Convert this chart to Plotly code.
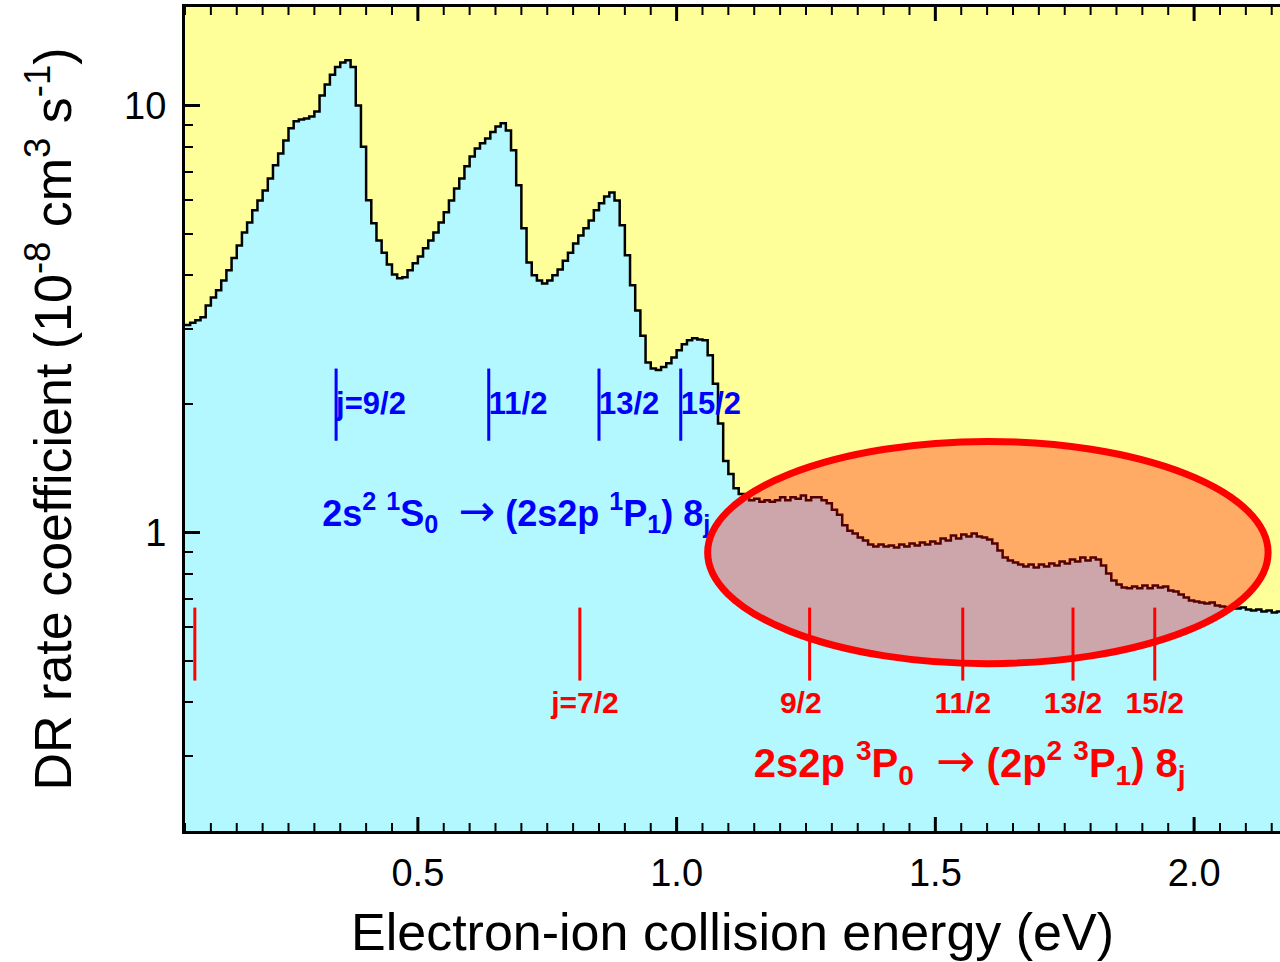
import math
import plotly.graph_objects as go

# Measured DR rate coefficient (10^-8 cm^3 s^-1), 0.01 eV bins starting at 0.05 eV
E_START = 0.05
BIN_WIDTH = 0.01
rate = [
    3.06, 3.10, 3.14, 3.19, 3.40, 3.55, 3.69, 3.89, 4.11, 4.39,
    4.70, 5.04, 5.32, 5.68, 5.99, 6.32, 6.74, 7.24, 7.72, 8.28,
    8.84, 9.18, 9.27, 9.32, 9.42, 9.68, 10.55, 11.2, 11.8, 12.3,
    12.6, 12.75, 12.3, 10.0, 8.0, 6.0, 5.3, 4.83, 4.52, 4.24,
    4.02, 3.94, 3.96, 4.11, 4.27, 4.43, 4.63, 4.83, 5.04, 5.32,
    5.62, 5.99, 6.39, 6.74, 7.20, 7.59, 7.93, 8.15, 8.37, 8.66,
    8.93, 9.08, 8.74, 7.85, 6.50, 5.16, 4.29, 4.00, 3.89, 3.83,
    3.89, 4.00, 4.13, 4.33, 4.52, 4.75, 4.96, 5.16, 5.38, 5.68,
    5.90, 6.12, 6.25, 5.99, 5.24, 4.46, 3.79, 3.31, 2.89, 2.50,
    2.42, 2.40, 2.44, 2.49, 2.57, 2.67, 2.76, 2.82, 2.85, 2.83,
    2.82, 2.60, 2.23, 1.80, 1.47, 1.37, 1.27, 1.23, 1.21, 1.19,
    1.20, 1.18, 1.19, 1.18, 1.19, 1.21, 1.19, 1.21, 1.20, 1.22,
    1.19, 1.21, 1.21, 1.19, 1.17, 1.13, 1.10, 1.04, 1.01, 0.995,
    0.973, 0.958, 0.937, 0.927, 0.937, 0.927, 0.932, 0.922, 0.937, 0.927,
    0.942, 0.932, 0.947, 0.937, 0.953, 0.942, 0.968, 0.958, 0.984, 0.968,
    0.989, 0.979, 0.995, 0.979, 0.973, 0.963, 0.942, 0.907, 0.874, 0.860,
    0.851, 0.841, 0.833, 0.841, 0.828, 0.841, 0.833, 0.846, 0.837, 0.855,
    0.846, 0.864, 0.855, 0.874, 0.860, 0.874, 0.864, 0.837, 0.802, 0.772,
    0.755, 0.743, 0.740, 0.747, 0.740, 0.751, 0.740, 0.751, 0.743, 0.747,
    0.731, 0.727, 0.716, 0.704, 0.693, 0.689, 0.686, 0.682, 0.686, 0.675,
    0.671, 0.667, 0.671, 0.664, 0.667, 0.660, 0.657, 0.660, 0.653, 0.657,
    0.650, 0.653, 0.650,
]
energy = [round(E_START + i * BIN_WIDTH, 2) for i in range(len(rate))]

# Rydberg resonance positions 2s^2 1S0 -> (2s2p 1P1) 8j
blue_E = [0.342, 0.637, 0.850, 1.008]
blue_labels = ["j=9/2", "11/2", "13/2", "15/2"]
blue_bar = (1.64, 2.42)
blue_label_y = 1.98

# Rydberg resonance positions 2s2p 3P0 -> (2p^2 3P1) 8j
red_E = [0.069, 0.813, 1.257, 1.553, 1.766, 1.924]
red_label_E = [0.823, 1.240, 1.553, 1.766, 1.924]
red_labels = ["j=7/2", "9/2", "11/2", "13/2", "15/2"]
red_bar = (0.45, 0.667)
red_label_y = 0.393

# Highlighted region (ellipse bounds)
ell_E = (1.060, 2.143)
ell_rate = (0.493, 1.634)

# Axis ticks
X_RANGE = [0.05, 2.166]
x_major = [0.5, 1.0, 1.5, 2.0]
x_major_text = ["0.5", "1.0", "1.5", "2.0"]
x_minor = [round(0.05 * k, 2) for k in range(1, 44) if k % 10 != 0]
y_major = [1, 10]
y_minor = [0.2, 0.3, 0.4, 0.5, 0.6, 0.7, 0.8, 0.9, 2, 3, 4, 5, 6, 7, 8, 9]

WIDTH, HEIGHT = 1280, 962
MARGIN = dict(l=185, r=0, t=7, b=131)
PLOT_H = HEIGHT - MARGIN["t"] - MARGIN["b"]

FONT = "Liberation Sans, Arial, sans-serif"
BLUE = "#0000FF"
RED = "#FF0000"


def arrow(size):
    return ('<span style="font-family:DejaVu Sans;font-weight:normal;'
            'font-size:%dpx">\u2192</span>' % size)


fig = go.Figure()

# spectrum: step histogram filled down to the axis
fig.add_trace(go.Scatter(
    x=energy, y=rate, mode="lines",
    line=dict(color="black", width=2.5, shape="hv"),
    fill="tozeroy", fillcolor="#B3F8FF",
    hoverinfo="skip",
))


def bars(xs, lo_hi):
    xx, yy = [], []
    for e in xs:
        xx += [e, e, None]
        yy += [lo_hi[0], lo_hi[1], None]
    return xx, yy


bx, by = bars(blue_E, blue_bar)
fig.add_trace(go.Scatter(x=bx, y=by, mode="lines",
                         line=dict(color=BLUE, width=3), hoverinfo="skip"))
rx, ry = bars(red_E, red_bar)
fig.add_trace(go.Scatter(x=rx, y=ry, mode="lines",
                         line=dict(color=RED, width=3), hoverinfo="skip"))

# series labels
fig.add_trace(go.Scatter(
    x=blue_E, y=[blue_label_y] * len(blue_E), mode="text",
    text=["<b>%s</b>" % t for t in blue_labels], textposition="middle right",
    textfont=dict(family=FONT, size=31, color=BLUE), cliponaxis=False,
    hoverinfo="skip",
))
fig.add_trace(go.Scatter(
    x=red_label_E, y=[red_label_y] * len(red_label_E), mode="text",
    text=["<b>%s</b>" % t for t in red_labels], textposition="middle center",
    textfont=dict(family=FONT, size=30, color=RED), cliponaxis=False,
    hoverinfo="skip",
))

# transition labels
fig.add_trace(go.Scatter(
    x=[0.315], y=[1.09], mode="text",
    text=["<b>2s<sup>2</sup> <sup>1</sup>S<sub>0</sub>  " + arrow(44) +
          " (2s2p <sup>1</sup>P<sub>1</sub>) 8<sub>j</sub></b>"],
    textposition="middle right",
    textfont=dict(family=FONT, size=36, color=BLUE), cliponaxis=False,
    hoverinfo="skip",
))
fig.add_trace(go.Scatter(
    x=[1.149], y=[0.283], mode="text",
    text=["<b>2s2p <sup>3</sup>P<sub>0</sub>  " + arrow(47) +
          " (2p<sup>2</sup> <sup>3</sup>P<sub>1</sub>) 8<sub>j</sub></b>"],
    textposition="middle right",
    textfont=dict(family=FONT, size=40, color=RED), cliponaxis=False,
    hoverinfo="skip",
))

fig.add_shape(
    type="circle", xref="x", yref="y",
    x0=ell_E[0], x1=ell_E[1], y0=ell_rate[0], y1=ell_rate[1],
    layer="above", fillcolor="rgba(255,0,0,0.33)",
    line=dict(color=RED, width=7),
)

# inward energy ticks on the bottom and top frame edges
for vals, length, width in ((x_major, 14, 3), (x_minor, 8, 2)):
    frac = length / PLOT_H
    for v in vals:
        for base, tip in ((0, frac), (1, 1 - frac)):
            fig.add_shape(type="line", xref="x", yref="paper",
                          x0=v, x1=v, y0=base, y1=tip, layer="above",
                          line=dict(color="black", width=width))

fig.update_layout(
    width=WIDTH, height=HEIGHT,
    margin=MARGIN,
    paper_bgcolor="white", plot_bgcolor="#FFFF99",
    showlegend=False,
    font=dict(family=FONT, color="black"),
    xaxis=dict(
        range=X_RANGE, tickmode="array", tickvals=x_major, ticktext=x_major_text,
        ticks="", showline=True, linewidth=3, linecolor="black", mirror=True,
        showgrid=False, zeroline=False,
        tickfont=dict(family=FONT, size=38, color="black"),
        ticklabelstandoff=6,
        title=dict(text="Electron-ion collision energy (eV)",
                   font=dict(family=FONT, size=52, color="black"), standoff=22),
    ),
    yaxis=dict(
        type="log", range=[math.log10(0.2), math.log10(17)],
        tickmode="array", tickvals=y_major, ticktext=["1", "10"],
        ticks="inside", ticklen=15, tickwidth=2.5, tickcolor="black",
        showline=True, linewidth=3, linecolor="black", mirror=False,
        showgrid=False, zeroline=False,
        tickfont=dict(family=FONT, size=38, color="black"),
        ticklabelstandoff=8,
        minor=dict(tickmode="array", tickvals=y_minor, ticks="inside", ticklen=8,
                   tickwidth=2, tickcolor="black", showgrid=False),
        title=dict(text="DR rate coefficient (10<sup>-8</sup> cm<sup>3</sup> s<sup>-1</sup>)",
                   font=dict(family=FONT, size=52, color="black"), standoff=36),
    ),
)

fig.write_html("out.html")
